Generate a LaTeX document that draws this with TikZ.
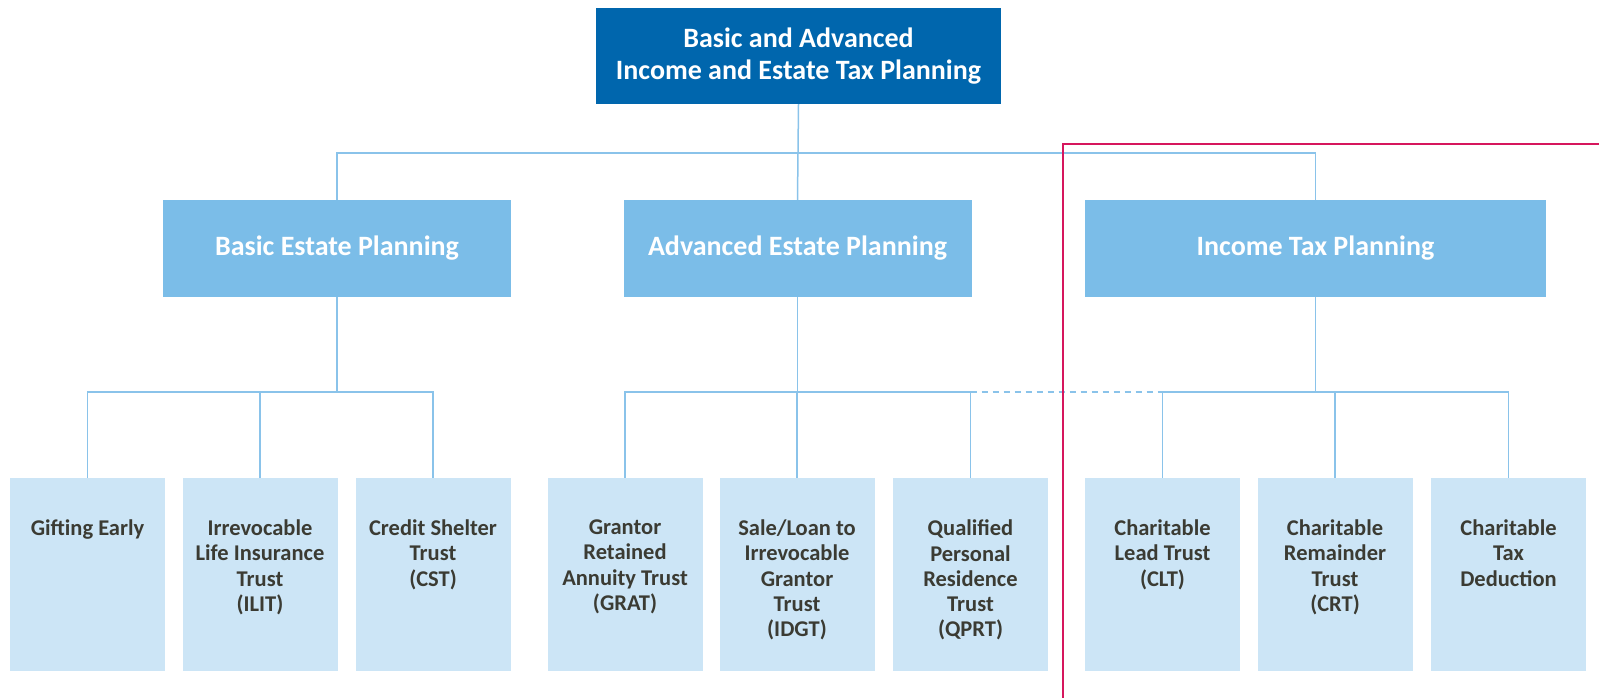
\documentclass[tikz,border=0pt]{standalone}
\usepackage{fontspec}
\setmainfont{Carlito}
\definecolor{topblue}{HTML}{0066AD}
\definecolor{midblue}{HTML}{7BBDE8}
\definecolor{leafblue}{HTML}{CCE5F6}
\definecolor{linkblue}{HTML}{8AC3EA}
\definecolor{textgray}{HTML}{3B3B33}
\definecolor{markred}{HTML}{D6175D}
\tikzset{
  link/.style={draw=linkblue, line width=1.5pt},
  topbox/.style={fill=topblue, text=white, inner sep=0pt, minimum width=405pt, minimum height=96pt,
    align=center, font=\bfseries\fontsize{28}{32}\selectfont},
  midbox/.style={fill=midblue, text=white, inner sep=0pt, minimum width=348pt, minimum height=97pt,
    font=\bfseries\fontsize{28}{32}\selectfont},
  leafbox/.style={fill=leafblue, inner sep=0pt, minimum width=155pt, minimum height=193pt},
  leaftext/.style={anchor=north, yshift=-42pt, inner sep=0pt, align=center, text=textgray,
    font=\bfseries\fontsize{22.5}{25.2}\selectfont},
}
\begin{document}
\begin{tikzpicture}[x=1pt,y=-1pt]
\useasboundingbox (0,0) rectangle (1599,698);
% levels of the connector bars
\coordinate (topbar) at (798,153);
\coordinate (lowbar) at (0,392);
% top and middle boxes
\node[topbox] (top) at (798.5,56) {Basic and Advanced\\Income and Estate Tax Planning};
\node[midbox] (basic) at (337,248.5) {Basic Estate Planning};
\node[midbox] (adv) at (797.5,248.5) {Advanced Estate Planning};
\node[midbox, minimum width=461pt] (income) at (1315.5,248.5) {Income Tax Planning};
% leaves
\node[leafbox, label={[leaftext]north:Gifting Early}] (gift) at (87.5,574.5) {};
\node[leafbox, label={[leaftext]north:Irrevocable\\Life Insurance\\Trust\\(ILIT)}] (ilit) at (260,574.5) {};
\node[leafbox, label={[leaftext]north:Credit Shelter\\Trust\\(CST)}] (cst) at (433,574.5) {};
\node[leafbox, label={[leaftext]north:Grantor\\Retained\\Annuity Trust\\(GRAT)}] (grat) at (625,574.5) {};
\node[leafbox, label={[leaftext]north:Sale/Loan to\\Irrevocable\\Grantor\\Trust\\(IDGT)}] (idgt) at (797,574.5) {};
\node[leafbox, label={[leaftext]north:Qualified\\Personal\\Residence\\Trust\\(QPRT)}] (qprt) at (970.5,574.5) {};
\node[leafbox, label={[leaftext]north:Charitable\\Lead Trust\\(CLT)}] (clt) at (1162.5,574.5) {};
\node[leafbox, label={[leaftext]north:Charitable\\Remainder\\Trust\\(CRT)}] (crt) at (1335,574.5) {};
\node[leafbox, label={[leaftext]north:Charitable\\Tax\\Deduction}] (ctd) at (1508.5,574.5) {};
% upper connectors
\draw[link] (top.south) -- (adv.north);
\draw[link] (basic.north) |- (topbar) -| (income.north);
% lower connectors
\draw[link] (basic.south) -- (basic.south |- lowbar);
\draw[link] (gift.north) |- (cst.north |- lowbar) -- (cst.north);
\draw[link] (ilit.north) -- (ilit.north |- lowbar);
\draw[link] (adv.south) -- (adv.south |- lowbar);
\draw[link] (grat.north) |- (qprt.north |- lowbar) -- (qprt.north);
\draw[link] (idgt.north) -- (idgt.north |- lowbar);
\draw[link] (income.south) -- (income.south |- lowbar);
\draw[link] (clt.north) |- (ctd.north |- lowbar) -- (ctd.north);
\draw[link] (crt.north) -- (crt.north |- lowbar);
\draw[link, dashed, dash pattern=on 6pt off 5pt] (qprt.north |- lowbar) -- (clt.north |- lowbar);
% red marker
\draw[markred, line width=2.6pt] (1063,698) -- (1063,144) -- (1599,144);
\end{tikzpicture}
\end{document}
